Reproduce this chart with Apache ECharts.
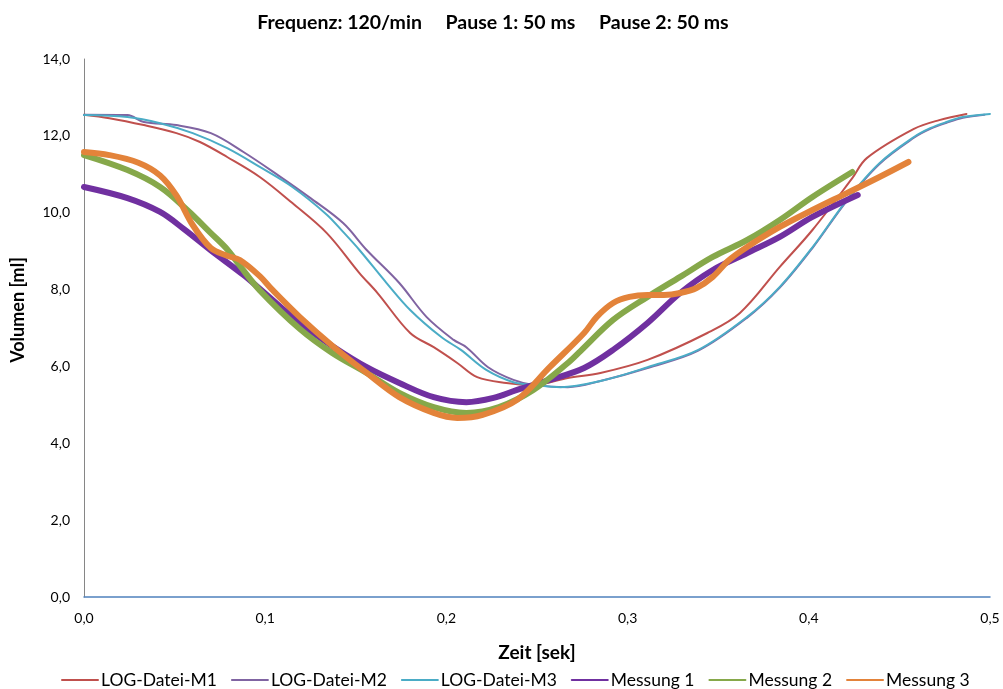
<!DOCTYPE html>
<html>
<head>
<meta charset="utf-8">
<script src="https://cdn.jsdelivr.net/npm/echarts@6/dist/echarts.min.js"></script>
<style>
html,body{margin:0;padding:0;background:#fff;}
#chart{width:1003px;height:689px;}
</style>
</head>
<body>
<div id="chart"></div>
<script>
// ---- Data (time in s, volume in ml) ----
const titleText = 'Frequenz: 120/min     Pause 1: 50 ms     Pause 2: 50 ms';
const xTicks = [0, 0.1, 0.2, 0.3, 0.4, 0.5];
const yTicks = [0, 2, 4, 6, 8, 10, 12, 14];
const xAxisTitle = 'Zeit [sek]';
const yAxisTitle = 'Volumen [ml]';
const seriesNames = ['LOG-Datei-M1', 'LOG-Datei-M2', 'LOG-Datei-M3', 'Messung 1', 'Messung 2', 'Messung 3'];

const m1Time = [0.000,0.014,0.033,0.051,0.064,0.079,0.097,0.115,0.134,0.152,0.162,0.180,0.193,0.206,0.217,0.233,0.248,0.267,0.285,0.311,0.344,0.362,0.384,0.402,0.424,0.432,0.458,0.472,0.487];
const m1Vol  = [12.55,12.46,12.28,12.07,11.84,11.45,10.93,10.25,9.47,8.43,7.91,6.87,6.50,6.09,5.72,5.57,5.52,5.70,5.83,6.17,6.87,7.39,8.59,9.55,10.90,11.42,12.18,12.41,12.57];

const m2Time = [0.000,0.024,0.033,0.051,0.070,0.088,0.107,0.125,0.143,0.156,0.174,0.189,0.204,0.211,0.223,0.237,0.248,0.267,0.285,0.311,0.339,0.366,0.384,0.402,0.421,0.439,0.458,0.467,0.476,0.485,0.497];
const m2Vol  = [12.55,12.54,12.36,12.28,12.07,11.58,10.98,10.38,9.73,9.03,8.17,7.29,6.69,6.50,5.98,5.65,5.52,5.46,5.62,5.96,6.41,7.27,8.05,9.08,10.31,11.27,11.95,12.18,12.34,12.47,12.55];

const m3Time = [0.000,0.024,0.042,0.060,0.079,0.097,0.115,0.134,0.143,0.152,0.167,0.180,0.197,0.208,0.222,0.237,0.248,0.263,0.285,0.311,0.339,0.366,0.384,0.402,0.421,0.439,0.458,0.467,0.476,0.485,0.500];
const m3Vol  = [12.54,12.49,12.33,12.07,11.68,11.19,10.67,9.95,9.50,9.03,8.17,7.47,6.77,6.43,5.91,5.59,5.52,5.46,5.62,5.98,6.43,7.29,8.07,9.10,10.33,11.29,11.97,12.20,12.36,12.49,12.57];

const mess1Time = [0.000,0.024,0.042,0.055,0.070,0.088,0.097,0.119,0.138,0.156,0.174,0.193,0.211,0.226,0.239,0.257,0.276,0.292,0.311,0.329,0.347,0.366,0.384,0.402,0.427];
const mess1Vol  = [10.67,10.38,10.02,9.58,9.02,8.38,8.02,7.13,6.50,5.98,5.57,5.20,5.07,5.18,5.39,5.65,5.96,6.43,7.13,7.91,8.51,8.95,9.37,9.89,10.46];

const mess2Time = [0.000,0.024,0.042,0.057,0.070,0.079,0.086,0.097,0.119,0.137,0.156,0.174,0.193,0.211,0.229,0.248,0.267,0.274,0.292,0.311,0.329,0.347,0.366,0.384,0.402,0.424];
const mess2Vol  = [11.50,11.11,10.67,10.07,9.47,9.05,8.62,7.98,6.98,6.35,5.83,5.31,4.94,4.79,4.94,5.39,6.09,6.40,7.21,7.81,8.33,8.85,9.29,9.81,10.41,11.06];

const mess3Time = [0.000,0.014,0.030,0.042,0.051,0.060,0.070,0.079,0.086,0.097,0.104,0.119,0.138,0.156,0.174,0.193,0.206,0.220,0.239,0.257,0.276,0.283,0.292,0.301,0.311,0.320,0.329,0.338,0.347,0.356,0.366,0.384,0.402,0.421,0.439,0.455];
const mess3Vol  = [11.58,11.50,11.30,10.97,10.45,9.68,9.08,8.88,8.77,8.35,7.99,7.29,6.50,5.83,5.20,4.79,4.66,4.74,5.13,5.98,6.87,7.29,7.65,7.81,7.86,7.86,7.91,8.04,8.33,8.77,9.11,9.63,10.07,10.51,10.93,11.32];

const colors = ['#C0504D', '#8064A2', '#4BACC6', '#7030A0', '#86A84A', '#E3833A'];
const widths = [2, 2, 2, 6, 6, 6];

const times = [m1Time, m2Time, m3Time, mess1Time, mess2Time, mess3Time];
const vols  = [m1Vol, m2Vol, m3Vol, mess1Vol, mess2Vol, mess3Vol];

const FONT = 'Lato, "DejaVu Sans", sans-serif';
const chart = echarts.init(document.getElementById('chart'), null, {renderer: 'canvas'});

const series = seriesNames.map((name, i) => ({
  name: name,
  type: 'line',
  data: times[i].map((t, k) => [t, vols[i][k]]),
  smooth: 0.35,
  symbol: 'none',
  showSymbol: false,
  lineStyle: {color: colors[i], width: widths[i], cap: 'round', join: 'round'},
  itemStyle: {color: colors[i]},
  emphasis: {disabled: true},
  animation: false
}));

const fmt = v => v.toFixed(1).replace('.', ',');

chart.setOption({
  animation: false,
  color: colors,
  title: {
    text: titleText,
    left: 488, top: 8, textAlign: 'center',
    textStyle: {fontFamily: FONT, fontWeight: 'bold', fontSize: 19.5, color: '#000'}
  },
  legend: {
    data: seriesNames,
    left: 56, top: 666,
    itemWidth: 36, itemHeight: 12, itemGap: 14,
    itemStyle: {opacity: 0, color: 'rgba(0,0,0,0)', borderWidth: 0},
    textStyle: {fontFamily: FONT, fontSize: 17.5, color: '#000', padding: [0,0,0,-2]}
  },
  grid: {left: 84, right: 13, top: 59, bottom: 92, containLabel: false},
  xAxis: {
    type: 'value', min: 0, max: 0.5, interval: 0.1,
    name: xAxisTitle, nameLocation: 'middle', nameGap: 46,
    nameTextStyle: {fontFamily: FONT, fontWeight: 'bold', fontSize: 19, color: '#000'},
    axisLine: {show: true, lineStyle: {color: '#4F81BD', width: 1.5}},
    axisTick: {show: false},
    splitLine: {show: false},
    axisLabel: {fontFamily: FONT, fontSize: 14, color: '#000', margin: 14, formatter: fmt}
  },
  yAxis: {
    type: 'value', min: 0, max: 14, interval: 2,
    axisLine: {show: true, lineStyle: {color: '#868686', width: 1}},
    axisTick: {show: false},
    splitLine: {show: false},
    axisLabel: {fontFamily: FONT, fontSize: 14, color: '#000', margin: 14, formatter: fmt}
  },
  graphic: [{
    type: 'text',
    x: 18, y: 310, rotation: Math.PI / 2,
    style: {text: yAxisTitle, fontFamily: FONT, fontWeight: 'bold', fontSize: 18, fill: '#000', align: 'center', verticalAlign: 'middle'}
  }],
  series: series
});
</script>
</body>
</html>
